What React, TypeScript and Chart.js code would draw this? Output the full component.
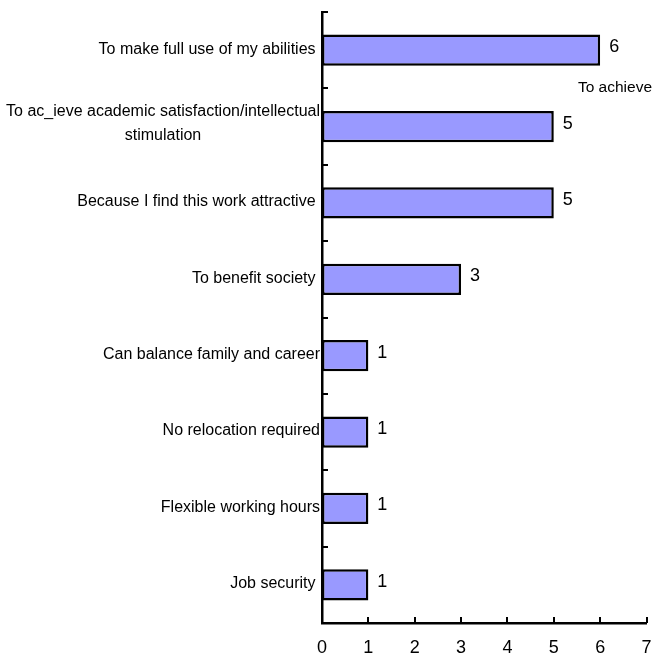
import React, { useEffect, useRef } from "react";
import { Chart, registerables } from "chart.js";

Chart.register(...registerables);

const categories: (string | string[])[] = [
  "To make full use of my abilities ",
  ["To ac_ieve academic satisfaction/intellectual", "stimulation"],
  "Because I find this work attractive ",
  "To benefit society ",
  "Can balance family and career",
  "No relocation required",
  "Flexible working hours",
  "Job security ",
];
const values = [6, 5, 5, 3, 1, 1, 1, 1];
const xTicks = [0, 1, 2, 3, 4, 5, 6, 7];
const strayText = "To achieve";

const FONT = '"Liberation Sans", Arial, sans-serif';

const customDraw = {
  id: "customDraw",
  beforeDraw(chart: any) {
    const { ctx } = chart;
    const y = chart.scales.y;
    const area = chart.chartArea;
    ctx.save();
    ctx.fillStyle = "#000";
    ctx.font = `16px ${FONT}`;
    ctx.textBaseline = "middle";
    const lineH = 24;
    categories.forEach((lab, i) => {
      const cy = y.getPixelForValue(i);
      const right = area.left - 2;
      const lines = Array.isArray(lab) ? lab : [lab];
      const widths = lines.map((l) => ctx.measureText(l).width);
      const maxW = Math.max(...widths);
      const center = right - maxW / 2;
      const startY = cy - ((lines.length - 1) * lineH) / 2 - (lines.length > 1 ? 3 : 1);
      lines.forEach((l, k) => {
        ctx.textAlign = "center";
        ctx.fillText(l, center, startY + k * lineH);
      });
    });
    ctx.restore();
  },
  afterDatasetsDraw(chart: any) {
    const { ctx } = chart;
    const meta = chart.getDatasetMeta(0);
    ctx.save();
    ctx.fillStyle = "#000";
    ctx.font = `18px ${FONT}`;
    ctx.textAlign = "left";
    ctx.textBaseline = "middle";
    meta.data.forEach((bar: any, i: number) => {
      ctx.fillText(String(values[i]), bar.x + 9, bar.y - 3);
    });
    ctx.restore();
  },
  afterDraw(chart: any) {
    const { ctx } = chart;
    const x = chart.scales.x;
    const y = chart.scales.y;
    const area = chart.chartArea;
    ctx.save();
    ctx.strokeStyle = "#000";
    ctx.lineWidth = 2;
    // inside tick marks on x axis
    xTicks.forEach((v) => {
      const px = Math.round(x.getPixelForValue(v));
      ctx.beginPath();
      ctx.moveTo(px, area.bottom);
      ctx.lineTo(px, area.bottom - 6);
      ctx.stroke();
    });
    // inside tick marks on y axis at category boundaries
    for (let i = 0; i <= categories.length; i++) {
      const py = Math.round(y.getPixelForValue(i - 0.5));
      ctx.beginPath();
      ctx.moveTo(area.left, py);
      ctx.lineTo(area.left + 6, py);
      ctx.stroke();
    }
    // x tick labels
    ctx.fillStyle = "#000";
    ctx.font = `18px ${FONT}`;
    ctx.textAlign = "center";
    ctx.textBaseline = "middle";
    xTicks.forEach((v) => {
      ctx.fillText(String(v), x.getPixelForValue(v), area.bottom + 25);
    });
    // stray text
    ctx.font = `15.5px ${FONT}`;
    ctx.textAlign = "right";
    ctx.fillText(strayText, chart.width - 1, y.getPixelForValue(0.5) - 1);
    ctx.restore();
  },
};

export default function App() {
  const ref = useRef<HTMLCanvasElement | null>(null);
  useEffect(() => {
    if (!ref.current) return;
    const chart = new Chart(ref.current, {
      type: "bar",
      data: {
        labels: categories as any,
        datasets: [
          {
            data: values,
            backgroundColor: "#9999FF",
            borderColor: "#000000",
            borderWidth: 2.5,
            borderSkipped: false,
            barPercentage: 0.41,
            categoryPercentage: 1,
          },
        ],
      },
      options: {
        indexAxis: "y",
        animation: false,
        responsive: false,
        maintainAspectRatio: false,
        layout: { padding: { left: 322, right: 6.5, top: 12, bottom: 36 } },
        plugins: {
          legend: { display: false },
          tooltip: { enabled: false },
        },
        scales: {
          x: {
            type: "linear",
            min: 0,
            max: 7,
            ticks: { display: false, stepSize: 1 },
            grid: { display: false, drawTicks: false, tickLength: 0 },
            border: { display: true, color: "#000", width: 2.5 },
          },
          y: {
            type: "category",
            offset: true,
            ticks: { display: false },
            grid: { display: false, drawTicks: false, tickLength: 0, offset: true },
            border: { display: true, color: "#000", width: 2.5 },
          },
        },
      },
      plugins: [customDraw],
    });
    return () => chart.destroy();
  }, []);
  return (
    <div style={{ position: "absolute", left: 0, top: 0, width: 653, height: 659, background: "#fff" }}>
      <canvas ref={ref} width={653} height={659} style={{ display: "block", width: 653, height: 659 }} />
    </div>
  );
}
